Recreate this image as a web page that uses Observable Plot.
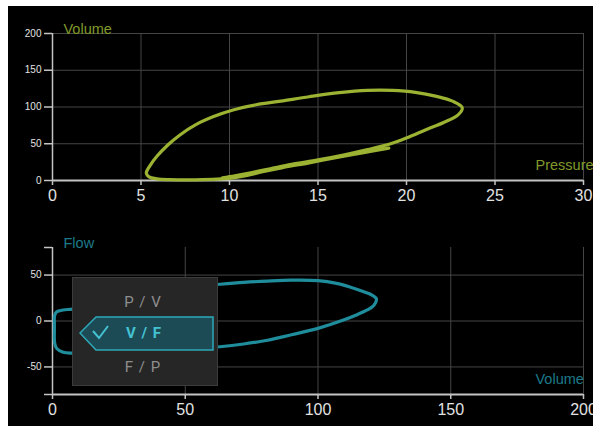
<!DOCTYPE html>
<html>
<head>
<meta charset="utf-8">
<script src="https://cdn.jsdelivr.net/npm/d3@7"></script>
<script src="https://cdn.jsdelivr.net/npm/@observablehq/plot@0.6"></script>
<style>
  html, body { margin: 0; padding: 0; }
  body { width: 593px; height: 430px; overflow: hidden; position: relative; background: #fff;
         font-family: "Liberation Sans", Arial, sans-serif; }
  #bg { position: absolute; left: 8px; top: 6px; width: 585px; height: 420px; background: #000; }
  #top, #bot { position: absolute; left: 0; width: 593px; height: 215px; }
  #top { top: 0; }
  #bot { top: 215px; }
  #menu { position: absolute; left: 72px; top: 277px; width: 146px; height: 109px; box-sizing: border-box;
          background: #262626; border: 1px solid #3c3c3c; }
  #menu svg { position: absolute; left: 0; top: 0; }
  .item { position: absolute; left: 0; width: 140px; text-align: center; font-family: Roboto, "Liberation Sans", sans-serif;
          font-size: 15px; letter-spacing: 1px; color: #8e8e8e; line-height: 18px; }
  .sel { color: #44c2d1; font-weight: 700; }
</style>
</head>
<body>
<div id="bg"></div>
<div id="top"></div>
<div id="bot"></div>
<div id="menu">
  <svg width="146" height="109">
    <polygon id="selShape" points="7,55 23,39 140,39 140,72 23,72" fill="#1c4b56" stroke="#2ea8b8" stroke-width="1.5"></polygon>
    <polyline points="20,53 26,60 35,48" fill="none" stroke="#44c2d1" stroke-width="2"></polyline>
  </svg>
  <div class="item" id="m0" style="top:15px">P / V</div>
  <div class="item sel" id="m1" style="top:46px;left:1px">V / F</div>
  <div class="item" id="m2" style="top:80px">F / P</div>
</div>
<script>
// ---- Pressure / Volume loop (top) ----
const pvPressure = [19.0, 17.5, 16.0, 14.5, 13.0, 11.8, 11.0, 10.3, 9.5, 8.5, 7.5, 6.6, 5.9, 5.45, 5.3, 5.5, 5.9, 6.5, 7.2, 8.1, 9.1, 10.2, 11.5, 12.9, 14.5, 16.2, 17.8, 19.2, 20.5, 21.7, 22.6, 23.15, 22.9, 22.1, 21.2, 20.2, 19.1, 17.8, 16.5, 15.0, 13.5, 12.3, 11.2, 10.3, 9.6];
const pvVolume   = [44, 37.5, 31, 24, 17.5, 11.5, 7, 4, 2.2, 1.2, 0.9, 1.1, 2.2, 5, 10, 20, 33, 48, 62, 76, 87, 96, 103, 108, 114, 119.5, 122.5, 122.5, 120, 114.5, 108, 99, 89, 79, 70, 60, 50, 42, 35, 28, 22, 16, 10.5, 6.5, 3.8];
const pvXTicks = [0, 5, 10, 15, 20, 25, 30];
const pvYTicks = [0, 50, 100, 150, 200];
const pvYLabel = "Volume";
const pvXLabel = "Pressure";

// ---- Volume / Flow loop (bottom) ----
const vfVolume = [0.7, 0.8, 1.6, 4, 7.5, 15, 25, 35, 45, 55, 63, 72, 81, 90, 100, 107, 112, 117, 120.5, 122, 121, 118.5, 114, 109.6, 100, 90, 81, 72, 63, 50, 35, 20, 7.5, 4, 1.6, 0.8, 0.7, 0.7];
const vfFlow   = [0, 6, 10, 12, 13, 17, 24, 30, 35, 38, 40, 42, 43.5, 44.5, 44, 41, 37, 32, 28, 24, 17, 12, 6, 1, -8, -15, -21, -25, -28, -31, -33, -34.5, -35, -34, -30, -24, -10, 0];
const vfXTicks = [0, 50, 100, 150, 200];
const vfYTicks = [-80, -50, 0, 50, 80];
const vfYLabel = "Flow";
const vfXLabel = "Volume";

const font = "Liberation Sans, Arial, sans-serif";
const gridColor = "#454545";
const axisColor = "#c4c4c4";
const labelColor = "#e2e2e2";

function loopPlot({xs, ys, xDomain, yDomain, xTicks, yTicks, yTickLabels, lineColor, textColor, yLabel, xLabel, marginTop, marginBottom, yAxisAt, xAxisAt}) {
  const data = xs.map((x, i) => ({x, y: ys[i]}));
  return Plot.plot({
    width: 593, height: 215,
    marginLeft: 52, marginRight: 10, marginTop, marginBottom,
    style: {background: "transparent", color: labelColor, fontFamily: font, overflow: "hidden"},
    x: {domain: xDomain}, y: {domain: yDomain},
    marks: [
      Plot.gridX(xTicks.filter(d => d !== xDomain[0]), {stroke: gridColor, strokeOpacity: 1}),
      Plot.gridY(yTickLabels.filter(d => d !== yDomain[0]), {stroke: gridColor, strokeOpacity: 1}),
      Plot.axisX(xTicks, {tickSize: 5, tickPadding: 4, fontSize: 16, stroke: axisColor, fill: labelColor, label: null, strokeWidth: 1.5}),
      Plot.axisY(yTicks, {tickSize: 8, tickPadding: 3, fontSize: 10, stroke: axisColor, fill: labelColor, label: null, strokeWidth: 1.5,
        tickFormat: d => yTickLabels.includes(d) ? String(d) : ""}),
      Plot.ruleY([xAxisAt], {stroke: axisColor, strokeWidth: 2}),
      Plot.ruleX([yAxisAt], {stroke: axisColor, strokeWidth: 1.5}),
      Plot.line(data, {x: "x", y: "y", curve: "catmull-rom", stroke: lineColor, strokeWidth: 3.2, strokeLinecap: "round", strokeLinejoin: "round"}),
      Plot.text([yLabel], {frameAnchor: "top-left", dx: 11, textAnchor: "start", lineAnchor: "bottom", fill: textColor, fontSize: 14.5}),
      Plot.text([xLabel], {frameAnchor: "bottom-right", dx: -48, dy: -11, textAnchor: "start", lineAnchor: "bottom", fill: textColor, fontSize: 14.5})
    ]
  });
}

document.getElementById("top").appendChild(loopPlot({
  xs: pvPressure, ys: pvVolume, xDomain: [0, 30], yDomain: [0, 200],
  xTicks: pvXTicks, yTicks: pvYTicks, yTickLabels: pvYTicks,
  lineColor: "#9bb232", textColor: "#819a2a", yLabel: pvYLabel, xLabel: pvXLabel,
  marginTop: 33, marginBottom: 35, yAxisAt: 0, xAxisAt: 0
}));

document.getElementById("bot").appendChild(loopPlot({
  xs: vfVolume, ys: vfFlow, xDomain: [0, 200], yDomain: [-80, 80],
  xTicks: vfXTicks, yTicks: vfYTicks, yTickLabels: [-50, 0, 50],
  lineColor: "#1f8d9c", textColor: "#1b7b8a", yLabel: vfYLabel, xLabel: vfXLabel,
  marginTop: 32, marginBottom: 36, yAxisAt: 0, xAxisAt: -80
}));
</script>
</body>
</html>
